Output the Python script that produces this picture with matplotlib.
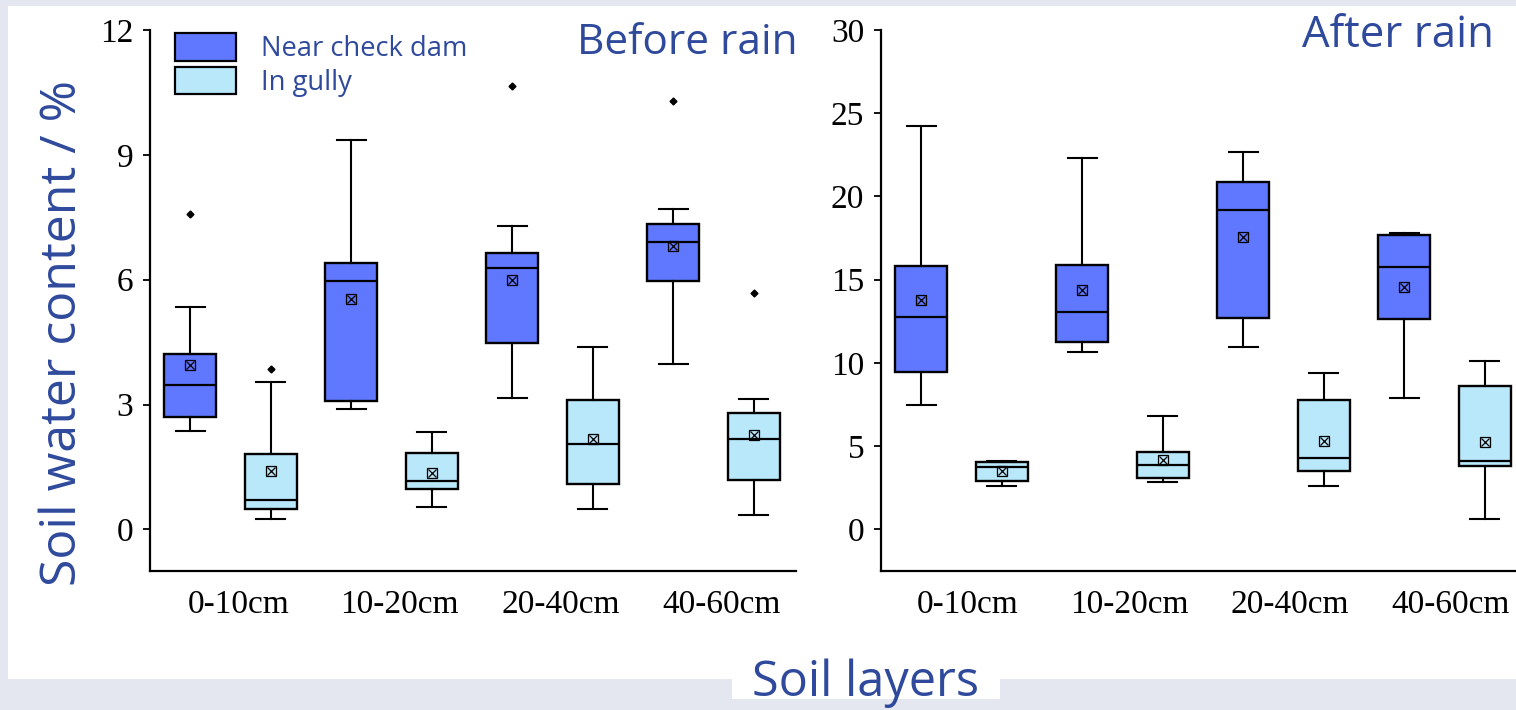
import numpy as np
import matplotlib
matplotlib.use("Agg")
import matplotlib.pyplot as plt
from matplotlib.patches import Patch, Rectangle

layers = ['0-10cm', '10-20cm', '20-40cm', '40-60cm']

# before rain, near check dam
bd_whislo = [2.36, 2.90, 3.16, 3.98]
bd_q1 = [2.69, 3.08, 4.48, 5.96]
bd_med = [3.47, 5.96, 6.27, 6.90]
bd_q3 = [4.22, 6.41, 6.64, 7.34]
bd_whishi = [5.34, 9.36, 7.28, 7.69]
bd_mean = [3.94, 5.54, 6.00, 6.80]
bd_out = [[7.58], [], [10.66], [10.30]]

# before rain, in gully
bg_whislo = [0.26, 0.54, 0.50, 0.35]
bg_q1 = [0.50, 0.96, 1.10, 1.19]
bg_med = [0.71, 1.16, 2.06, 2.18]
bg_q3 = [1.82, 1.84, 3.10, 2.79]
bg_whishi = [3.54, 2.34, 4.39, 3.14]
bg_mean = [1.40, 1.36, 2.18, 2.26]
bg_out = [[3.86], [], [], [5.68]]

# after rain, near check dam
ad_whislo = [7.48, 10.68, 10.94, 7.90]
ad_q1 = [9.46, 11.26, 12.70, 12.62]
ad_med = [12.78, 13.08, 19.16, 15.74]
ad_q3 = [15.82, 15.90, 20.84, 17.70]
ad_whishi = [24.26, 22.34, 22.70, 17.82]
ad_mean = [13.76, 14.38, 17.58, 14.58]
ad_out = [[], [], [], []]

# after rain, in gully
ag_whislo = [2.58, 2.86, 2.62, 0.60]
ag_q1 = [2.92, 3.08, 3.48, 3.82]
ag_med = [3.74, 3.84, 4.28, 4.08]
ag_q3 = [4.02, 4.66, 7.80, 8.62]
ag_whishi = [4.10, 6.82, 9.40, 10.14]
ag_mean = [3.48, 4.18, 5.32, 5.24]
ag_out = [[], [], [], []]

DARK = '#6078ff'
LIGHT = '#b9e8fb'
BLUE = '#2f4a9c'
SANS = ['Open Sans', 'DejaVu Sans']
SERIF = 'Liberation Serif'


def make_stats(whislo, q1, med, q3, whishi, mean, out):
    stats = []
    for i in range(len(med)):
        stats.append(dict(whislo=whislo[i], q1=q1[i], med=med[i], q3=q3[i],
                          whishi=whishi[i], mean=mean[i], fliers=out[i]))
    return stats


def draw_group(ax, stats, pos, color):
    ax.bxp(stats, positions=pos, widths=0.32, capwidths=0.18, patch_artist=True,
           showmeans=False, showfliers=True, manage_ticks=False,
           boxprops=dict(facecolor=color, edgecolor='black', linewidth=1.7),
           medianprops=dict(color='black', linewidth=1.6),
           whiskerprops=dict(color='black', linewidth=1.5),
           capprops=dict(color='black', linewidth=1.5),
           flierprops=dict(marker='D', markerfacecolor='black', markeredgecolor='black',
                           markersize=3.5))
    means = [s['mean'] for s in stats]
    ax.plot(pos, means, ls='none', marker='s', ms=7.5, mfc='none', mec='black', mew=0.9)
    ax.plot(pos, means, ls='none', marker='x', ms=5.5, mec='black', mew=0.9)


def style_axes(ax, ylim, yticks, xmax, shift):
    ax.set_xlim(0.5, xmax)
    ax.set_ylim(*ylim)
    ax.set_yticks(yticks)
    ax.set_xticks(np.arange(1, len(layers) + 1) + shift)
    ax.set_xticklabels(layers)
    for side in ['top', 'right']:
        ax.spines[side].set_visible(False)
    for side in ['left', 'bottom']:
        ax.spines[side].set_linewidth(1.6)
    ax.tick_params(axis='y', direction='out', length=5, width=1.3, pad=7, labelsize=24)
    ax.tick_params(axis='x', length=0, pad=13, labelsize=24)
    for lab in ax.get_xticklabels() + ax.get_yticklabels():
        lab.set_fontfamily(SERIF)
    ax.set_facecolor('none')
    ax.set_zorder(2)


fig = plt.figure(figsize=(15.16, 7.10), dpi=100)
fig.patch.set_facecolor('#e4e7ef')
# white slide panels
fig.patches.append(Rectangle((8 / 1516, 1 - 679 / 710), 1 - 8 / 1516, (679 - 6) / 710,
                             transform=fig.transFigure, facecolor='white', edgecolor='none', zorder=-1))
fig.patches.append(Rectangle((732 / 1516, 1 - 699 / 710), 268 / 1516, 25 / 710,
                             transform=fig.transFigure, facecolor='white', edgecolor='none', zorder=-1))

ax1 = fig.add_axes([150 / 1516, 139 / 710, 646 / 1516, 541 / 710])
ax2 = fig.add_axes([881 / 1516, 139 / 710, 635 / 1516, 541 / 710])

x = np.arange(1, len(layers) + 1)
draw_group(ax1, make_stats(bd_whislo, bd_q1, bd_med, bd_q3, bd_whishi, bd_mean, bd_out), x - 0.25, DARK)
draw_group(ax1, make_stats(bg_whislo, bg_q1, bg_med, bg_q3, bg_whishi, bg_mean, bg_out), x + 0.25, LIGHT)
draw_group(ax2, make_stats(ad_whislo, ad_q1, ad_med, ad_q3, ad_whishi, ad_mean, ad_out), x - 0.25, DARK)
draw_group(ax2, make_stats(ag_whislo, ag_q1, ag_med, ag_q3, ag_whishi, ag_mean, ag_out), x + 0.25, LIGHT)

style_axes(ax1, (-1, 12), [0, 3, 6, 9, 12], 0.5 + 646 / 161, 0.05)
style_axes(ax2, (-2.5, 30), [0, 5, 10, 15, 20, 25, 30], 0.5 + 635 / 161, 0.04)

handles = [Patch(facecolor=DARK, edgecolor='black', linewidth=1.6, label='Near check dam'),
           Patch(facecolor=LIGHT, edgecolor='black', linewidth=1.6, label='In gully')]
leg = ax1.legend(handles=handles, loc='upper left', bbox_to_anchor=(0.018, 1.019),
                 frameon=False, handlelength=2.2, handleheight=1.15,
                 labelspacing=0.14, handletextpad=0.95, borderpad=0.0,
                 prop=dict(family=SANS, size=19.7))
for t in leg.get_texts():
    t.set_color(BLUE)

fig.text(798 / 1516, 1 - 43 / 710, 'Before rain', ha='right', va='center',
         fontsize=30.5, color=BLUE, family=SANS)
fig.text(1494 / 1516, 1 - 36 / 710, 'After rain', ha='right', va='center',
         fontsize=31.5, color=BLUE, family=SANS)
fig.text(63 / 1516, 1 - 333 / 710, 'Soil water content / %', rotation=90, ha='center',
         va='center', fontsize=36, color=BLUE, family=SANS)
fig.text(866 / 1516, 1 - 683 / 710, 'Soil layers', ha='center', va='center',
         fontsize=35, color=BLUE, family=SANS)

fig.savefig('out.png', dpi=100, facecolor=fig.get_facecolor())
